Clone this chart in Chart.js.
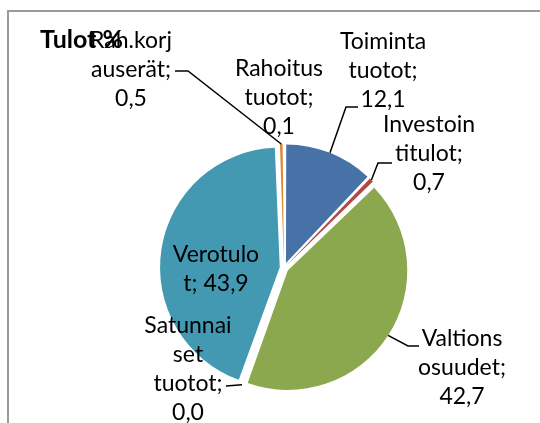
<!DOCTYPE html>
<html>
<head>
<meta charset="utf-8">
<script src="https://cdn.jsdelivr.net/npm/chart.js@4/dist/chart.umd.min.js"></script>
<style>
  html, body { margin: 0; padding: 0; background: #ffffff; }
  canvas { display: block; }
</style>
</head>
<body>
<canvas id="c" width="540" height="423"></canvas>
<script>
// ---- data ----
const chartTitle = 'Tulot %';
const categories = ['Toiminta tuotot', 'Investointitulot', 'Valtionsosuudet', 'Satunnaiset tuotot', 'Verotulot', 'Rah.korjauserät', 'Rahoitustuotot'];
const values = [12.1, 0.7, 42.7, 0.0, 43.9, 0.5, 0.1];
// wrapped label text, {v} is replaced with the value
const labelTemplates = [
  'Toiminta\ntuotot;\n{v}',
  'Investoin\ntitulot;\n{v}',
  'Valtions\nosuudet;\n{v}',
  'Satunnai\nset\ntuotot;\n{v}',
  'Verotulo\nt; {v}',
  'Rah.korj\nauserät;\n{v}',
  'Rahoitus\ntuotot;\n{v}'
];

// ---- styles / layout ----
const colors = ['#4672A8', '#B44743', '#8BA84F', '#7D60A0', '#4399B1', '#DD8737', '#2D4D74'];
const FONT = 'Lato, "Open Sans", sans-serif';
const LABEL_SIZE = 23;
const TITLE_SIZE = 25;
const LINE_H = 29;
const EXPLODE = 7;
const labelLayout = [
  { cx: 383, y: 49,  leader: [[346, 107], [358, 107]] },
  { cx: 429, y: 132, leader: [[378, 163], [392, 163]] },
  { cx: 462, y: 346, leader: [[408, 346], [419, 346]] },
  { cx: 188, y: 333, leader: [[226, 386]] },
  { cx: 216, y: 262, leader: null },
  { cx: 131, y: 48,  leader: [[188, 71], [175, 71]] },
  { cx: 279, y: 76,  leader: null }
];

const total = values.reduce((a, b) => a + b, 0);
const fmt = v => v.toFixed(1).replace('.', ',');

const labelPlugin = {
  id: 'excelLabels',
  beforeDraw(chart) {
    const ctx = chart.ctx;
    ctx.save();
    ctx.strokeStyle = '#9A9A9A';
    ctx.lineWidth = 2;
    ctx.beginPath();
    ctx.moveTo(8, 600);
    ctx.lineTo(8, 11);
    ctx.lineTo(600, 11);
    ctx.stroke();
    ctx.restore();
  },
  afterDatasetsDraw(chart) {
    const ctx = chart.ctx;
    const meta = chart.getDatasetMeta(0);
    ctx.save();
    // leader lines
    ctx.strokeStyle = '#000000';
    ctx.lineWidth = 1.5;
    meta.data.forEach((arc, i) => {
      const lay = labelLayout[i];
      if (!lay.leader) return;
      const half = (arc.startAngle + arc.endAngle) / 2;
      const circ = arc.endAngle - arc.startAngle;
      const off = arc.options.offset || 0;
      const t = off / 4 * (2 - Math.sin(Math.min(Math.PI, circ)));
      const px = arc.x + Math.cos(half) * (t + arc.outerRadius);
      const py = arc.y + Math.sin(half) * (t + arc.outerRadius);
      ctx.beginPath();
      ctx.moveTo(px, py);
      lay.leader.forEach(p => ctx.lineTo(p[0], p[1]));
      ctx.stroke();
    });
    // title
    ctx.fillStyle = '#000000';
    ctx.textAlign = 'left';
    ctx.textBaseline = 'alphabetic';
    ctx.font = 'bold ' + TITLE_SIZE + 'px ' + FONT;
    ctx.fillText(chartTitle, 40, 48);
    // labels
    ctx.font = LABEL_SIZE + 'px ' + FONT;
    ctx.textAlign = 'center';
    values.forEach((v, i) => {
      const lines = labelTemplates[i].replace('{v}', fmt(v)).split('\n');
      const lay = labelLayout[i];
      lines.forEach((ln, k) => ctx.fillText(ln, lay.cx, lay.y + k * LINE_H));
    });
    ctx.restore();
  }
};

new Chart(document.getElementById('c'), {
  type: 'pie',
  data: {
    labels: categories,
    datasets: [{
      data: values,
      backgroundColor: colors,
      borderWidth: 0,
      radius: 117,
      offset: (c) => {
        const v = c.dataset.data[c.dataIndex];
        const circ = v / total * Math.PI * 2;
        return EXPLODE * 4 / (2 - Math.sin(Math.min(Math.PI, circ)));
      }
    }]
  },
  options: {
    responsive: false,
    animation: false,
    layout: { padding: { left: 160, right: 132, top: 140, bottom: 27 } },
    plugins: {
      legend: { display: false },
      title: { display: false },
      tooltip: { enabled: false }
    }
  },
  plugins: [labelPlugin]
});
</script>
</body>
</html>
